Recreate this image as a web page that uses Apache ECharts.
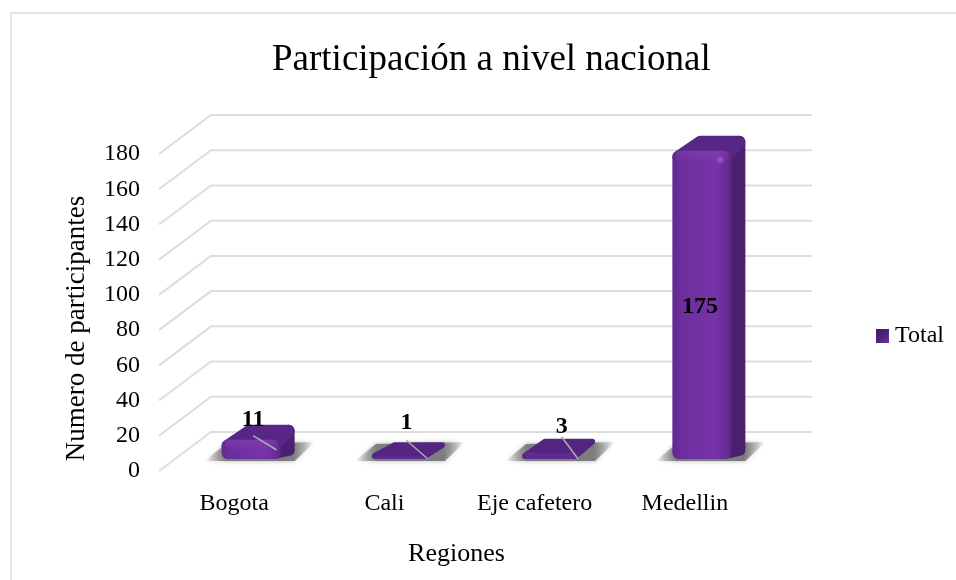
<!DOCTYPE html>
<html>
<head>
<meta charset="utf-8">
<style>html,body{margin:0;padding:0;background:#fff}#c{width:956px;height:580px}</style>
<script src="https://cdn.jsdelivr.net/npm/echarts@6/dist/echarts.min.js"></script>
</head>
<body>
<div id="c"></div>
<script>
const categories = ['Bogota', 'Cali', 'Eje cafetero', 'Medellin'];
const totals = [11, 1, 3, 175];
const gridTicks = [0, 20, 40, 60, 80, 100, 120, 140, 160, 180];
const seriesName = 'Total';
const titleText = 'Participación a nivel nacional';
const xName = 'Regiones';
const yName = 'Numero de participantes';

const FONT = '"Liberation Serif","Times New Roman",serif';
const WALL_DX = 52, WALL_DY = 39, WALL_RIGHT = 812;
const BAR_SHIFT = 24, BAR_W = 73, BAR_DX = 14, BAR_DY = 15, BASE_LIFT = 12;
// Label gaps above the bar top, per bar, as placed in the reference (x, y)
const labelNudge = [[-5, -5], [-2, -19], [3, -12], [-9, 0]];

const chart = echarts.init(document.getElementById('c'));

function poly(points, fill, r) {
  return {
    type: 'polygon',
    shape: { points: points },
    style: { fill: fill, stroke: r > 0 ? fill : null, lineWidth: r, lineJoin: 'round' }
  };
}
const grad = (x2, y2, stops) => ({
  type: 'linear', x: 0, y: 0, x2: x2, y2: y2,
  colorStops: stops.map(c => ({ offset: c[0], color: c[1] }))
});

function renderWall(params, api) {
  const t = api.value(0);
  const p = api.coord([0, t]);
  const left = params.coordSys.x;
  return {
    type: 'polyline',
    shape: { points: [[left, p[1]], [left + WALL_DX, p[1] - WALL_DY], [WALL_RIGHT, p[1] - WALL_DY]] },
    style: { stroke: '#dddddd', lineWidth: 2, fill: null }
  };
}

function renderBar(params, api) {
  const i = api.value(0), v = api.value(1);
  const c0 = api.coord([i, 0]), cv = api.coord([i, v]);
  const cx = c0[0] + BAR_SHIFT;
  const x0 = cx - BAR_W / 2, x1 = x0 + BAR_W - BAR_DX;
  const yb = c0[1] - BASE_LIFT;
  const h = c0[1] - cv[1];
  const yt = yb - h;
  const tall = h > 10;
  const n = labelNudge[i];
  const kids = [];
  // floor shadow
  kids.push({
    type: 'polygon',
    shape: { points: [[x0 - 17, yb + 2], [x0 + 4, yb - BAR_DY], [x1 + BAR_DX + 20, yb - BAR_DY - 2], [x1 + BAR_DX, yb + 2]] },
    style: {
      fill: grad(1, 0, [[0, 'rgba(130,130,130,0)'], [0.2, '#7d7d7d'], [0.8, '#7d7d7d'], [1, 'rgba(130,130,130,0)']]),
      shadowBlur: 5, shadowColor: 'rgba(130,130,130,0.6)'
    }
  });
  if (tall) {
    const r = 12, a = r / 2;
    // side face
    kids.push(poly([[x1 - a, yb - a], [x1 + BAR_DX - a, yb - BAR_DY + a], [x1 + BAR_DX - a, yt - BAR_DY + a], [x1 - a, yt + a]], '#4a2070', r));
    // top face
    kids.push(poly([[x0 + a, yt + a], [x0 + BAR_DX + 8 + a, yt - BAR_DY + a], [x1 + BAR_DX - a, yt - BAR_DY + a], [x1 - a, yt + a]], '#572686', r));
    // front face
    const fr = Math.min(h, 12), fa = fr / 2;
    kids.push(poly([[x0 + fa, yb - fa], [x1 - fa, yb - fa], [x1 - fa, yt + fa], [x0 + fa, yt + fa]],
      grad(1, 0, [[0, '#60288f'], [0.15, '#6c2e9c'], [0.72, '#7733a8'], [0.9, '#6a2d98'], [1, '#5d2888']]), fr));
    // bevel on upper edge of the front face
    kids.push({
      type: 'rect',
      shape: { x: x0 + 3, y: yt, width: x1 - x0 - 6, height: 12, r: 5 },
      style: { fill: grad(0, 1, [[0, 'rgba(150,80,200,0.3)'], [1, 'rgba(150,80,200,0)']]) }
    });
  } else {
    const r = 6, a = r / 2;
    // flat bar: the top face takes up nearly the whole shape
    kids.push(poly([[x0 + a, yb - a], [x0 + 20 + a, yt - BAR_DY + a], [x1 + BAR_DX - a, yt - BAR_DY + a], [x1 - 3 - a, yb - a]], '#512580', r));
    // thin front rim
    kids.push({
      type: 'rect',
      shape: { x: x0 + 3, y: yb - h - 1, width: x1 - x0 - 9, height: h + 1, r: 1 },
      style: { fill: '#5f2b90' }
    });
  }
  if (h > 100) {
    // bevel glint
    kids.push({
      type: 'circle',
      shape: { cx: x1 - 11, cy: yt + 9, r: 5 },
      style: { fill: { type: 'radial', x: 0.5, y: 0.5, r: 0.5, colorStops: [{ offset: 0, color: 'rgba(170,100,220,0.8)' }, { offset: 1, color: 'rgba(170,100,220,0)' }] } }
    });
  } else {
    // gray leader line to the label
    kids.push({
      type: 'line',
      shape: {
        x1: cx + n[0], y1: tall ? yt - 4 : yt - BAR_DY - 2,
        x2: tall ? x1 - 4 : x1 - 3, y2: tall ? yb - 9 : yb
      },
      style: { stroke: '#aaaaaa', lineWidth: 1.6 }
    });
  }
  // data label
  const labelY = h > 100 ? (yt + yb) / 2 + 2 : yt - BAR_DY + n[1];
  kids.push({
    type: 'text', z2: 10,
    style: {
      x: cx + n[0], y: labelY, text: String(v),
      font: 'bold 24px ' + FONT, fill: '#000', textAlign: 'center', textVerticalAlign: 'middle'
    }
  });
  return { type: 'group', children: kids };
}

chart.setOption({
  animation: false,
  backgroundColor: '#fff',
  textStyle: { fontFamily: FONT },
  title: {
    text: titleText, left: 267, top: 37,
    textStyle: { fontFamily: FONT, fontSize: 37, fontWeight: 'normal', color: '#000' }
  },
  legend: {
    data: [{ name: seriesName, icon: 'rect' }],
    left: 871, top: 319, itemWidth: 13, itemHeight: 14, itemGap: 0,
    textStyle: { fontFamily: FONT, fontSize: 24, color: '#000', padding: [0, 0, 0, 1] },
    itemStyle: { color: grad(1, 1, [[0, '#3f1a66'], [0.5, '#4b2278'], [1, '#7733a8']]) }
  },
  grid: { left: 159, top: 154, width: 601, height: 317, containLabel: false },
  xAxis: {
    type: 'category', data: categories,
    axisLine: { show: false }, axisTick: { show: false }, splitLine: { show: false },
    axisLabel: { fontFamily: FONT, fontSize: 24, color: '#000', margin: 21, interval: 0 },
    name: xName, nameLocation: 'middle', nameGap: 70,
    nameTextStyle: { fontFamily: FONT, fontSize: 26, color: '#000', padding: [0, 6, 0, 0] }
  },
  yAxis: {
    type: 'value', min: 0, max: 180, interval: 20,
    axisLine: { show: false }, axisTick: { show: false }, splitLine: { show: false },
    axisLabel: { fontFamily: FONT, fontSize: 24, color: '#000', margin: 19 },
    name: yName, nameLocation: 'middle', nameGap: 69,
    nameTextStyle: { fontFamily: FONT, fontSize: 27, color: '#000', padding: [0, 32, 0, 0] }
  },
  series: [
    {
      type: 'custom', name: 'wall', silent: true, z: 1, clip: false,
      renderItem: renderWall,
      data: gridTicks.map(t => [t]),
      encode: { y: 0 }
    },
    {
      type: 'custom', name: seriesName, z: 2, clip: false,
      renderItem: renderBar,
      itemStyle: { color: '#7030a0' },
      data: totals.map((v, i) => [i, v]),
      encode: { x: 0, y: 1 }
    }
  ],
  graphic: [{
    type: 'rect', silent: true, z: -1,
    shape: { x: 11, y: 13, width: 1000, height: 800 },
    style: { fill: 'transparent', stroke: '#d9d9d9', lineWidth: 1.5 }
  }]
});
</script>
</body>
</html>
